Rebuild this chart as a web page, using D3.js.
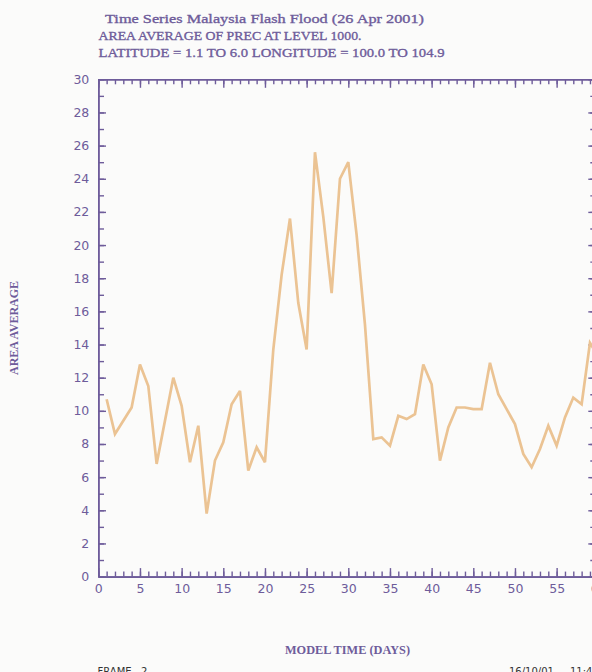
<!DOCTYPE html>
<html>
<head>
<meta charset="utf-8">
<script src="https://cdn.jsdelivr.net/npm/d3@7"></script>
<style>
  html, body { margin: 0; padding: 0; background: #fbfbfa; }
  svg { display: block; }
</style>
</head>
<body>
<svg id="chart" width="592" height="672"></svg>
<script>
// ---- data ----
const days = d3.range(1, 61);
const precip = [
  10.7, 8.6, 9.4, 10.2, 12.8, 11.5, 6.8, 9.4, 12.0, 10.3,
  6.9, 9.1, 3.8, 7.0, 8.1, 10.4, 11.2, 6.4, 7.8, 6.9,
  13.7, 18.2, 21.6, 16.5, 13.7, 25.6, 21.7, 17.1, 24.0, 25.0,
  20.6, 15.2, 8.3, 8.4, 7.9, 9.7, 9.5, 9.8, 12.8, 11.6,
  7.0, 9.0, 10.2, 10.2, 10.1, 10.1, 12.9, 11.0, 10.1, 9.2,
  7.4, 6.6, 7.7, 9.1, 7.9, 9.6, 10.8, 10.4, 14.1, 13.3
];
const xTickLabels = [0, 5, 10, 15, 20, 25, 30, 35, 40, 45, 50, 55, 60];
const yTickLabels = [0, 2, 4, 6, 8, 10, 12, 14, 16, 18, 20, 22, 24, 26, 28, 30];
const titleLines = [
  "Time Series Malaysia Flash Flood (26 Apr 2001)",
  "AREA AVERAGE OF PREC AT LEVEL 1000.",
  "LATITUDE = 1.1 TO 6.0 LONGITUDE = 100.0 TO 104.9"
];

// ---- layout ----
const purple = "#6e5c9a";
const lineColor = "#ebc393";
const svg = d3.select("#chart");
const x = d3.scaleLinear().domain([0, 60]).range([98.3, 598.3]);
const y = d3.scaleLinear().domain([0, 30]).range([576.6, 79.3]);
const tickFont = "'DejaVu Sans', sans-serif";
const serif = "'Liberation Serif', 'DejaVu Serif', serif";

function styleAxis(g) {
  g.selectAll("path.domain").attr("stroke", purple).attr("stroke-width", 1.6);
  g.selectAll(".tick line").attr("stroke", purple).attr("stroke-width", 1.4);
  g.selectAll(".tick text").attr("fill", purple).style("font-family", tickFont).style("font-size", "12.5px");
}

const minorX = d3.range(0, 61, 1);
const minorY = d3.range(0, 31, 1);

// bottom axis
svg.append("g").attr("transform", `translate(0,${y(0)})`)
  .call(d3.axisBottom(x).tickValues(minorX).tickSizeInner(-5).tickSizeOuter(0).tickFormat(""))
  .call(styleAxis);
svg.append("g").attr("transform", `translate(0,${y(0)})`)
  .call(d3.axisBottom(x).tickValues(xTickLabels).tickSizeInner(-8.5).tickSizeOuter(0).tickPadding(8).tickFormat(d3.format("d")))
  .call(styleAxis);
// top axis
svg.append("g").attr("transform", `translate(0,${y(30)})`)
  .call(d3.axisTop(x).tickValues(minorX).tickSizeInner(-5).tickSizeOuter(0).tickFormat(""))
  .call(styleAxis);
svg.append("g").attr("transform", `translate(0,${y(30)})`)
  .call(d3.axisTop(x).tickValues(xTickLabels).tickSizeInner(-8.5).tickSizeOuter(0).tickFormat(""))
  .call(styleAxis);
// left axis
svg.append("g").attr("transform", `translate(${x(0)},0)`)
  .call(d3.axisLeft(y).tickValues(minorY).tickSizeInner(-5.7).tickSizeOuter(0).tickFormat(""))
  .call(styleAxis);
svg.append("g").attr("transform", `translate(${x(0)},0)`)
  .call(d3.axisLeft(y).tickValues(yTickLabels).tickSizeInner(-7.7).tickSizeOuter(0).tickPadding(9).tickFormat(d3.format("d")))
  .call(styleAxis);
// right axis
svg.append("g").attr("transform", `translate(${x(60) - 2.3},0)`)
  .call(d3.axisRight(y).tickValues(minorY).tickSizeInner(-5.7).tickSizeOuter(0).tickFormat(""))
  .call(styleAxis);
svg.append("g").attr("transform", `translate(${x(60) - 2.3},0)`)
  .call(d3.axisRight(y).tickValues(yTickLabels).tickSizeInner(-7.7).tickSizeOuter(0).tickFormat(""))
  .call(styleAxis);

// data line
const line = d3.line().x((d, i) => x(days[i])).y(d => y(d));
svg.append("path").datum(precip)
  .attr("d", line)
  .attr("fill", "none")
  .attr("stroke", lineColor)
  .attr("stroke-width", 2.7)
  .attr("stroke-linejoin", "miter")
  .attr("stroke-miterlimit", 3);

// titles
const titleSpecs = [
  { x: 105, y: 23, len: 319 },
  { x: 98.5, y: 39.5, len: 263 },
  { x: 98.5, y: 56.5, len: 346 }
];
titleLines.forEach((t, i) => {
  svg.append("text")
    .attr("x", titleSpecs[i].x).attr("y", titleSpecs[i].y)
    .attr("textLength", titleSpecs[i].len).attr("lengthAdjust", "spacingAndGlyphs")
    .attr("fill", purple)
    .attr("stroke", purple).attr("stroke-width", 0.35)
    .style("font-family", serif).style("font-size", "13.5px")
    .text(t);
});

// axis titles
svg.append("text")
  .attr("transform", "translate(18,328) rotate(-90)")
  .attr("text-anchor", "middle")
  .attr("textLength", 94).attr("lengthAdjust", "spacingAndGlyphs")
  .attr("fill", purple)
  .style("font-family", serif).style("font-size", "12.5px").style("font-weight", "bold")
  .text("AREA AVERAGE");
svg.append("text")
  .attr("x", 285).attr("y", 653.5)
  .attr("textLength", 125).attr("lengthAdjust", "spacingAndGlyphs")
  .attr("fill", purple)
  .style("font-family", serif).style("font-size", "13px").style("font-weight", "bold")
  .text("MODEL TIME (DAYS)");

// footer (cut off at bottom, as in the reference)
svg.append("text")
  .attr("x", 97.5).attr("y", 675)
  .attr("fill", "#333")
  .style("font-family", tickFont).style("font-size", "10px")
  .text("FRAME");
svg.append("text")
  .attr("x", 141).attr("y", 675)
  .attr("fill", "#333")
  .style("font-family", tickFont).style("font-size", "10px")
  .text("2");
svg.append("text")
  .attr("x", 509).attr("y", 675)
  .attr("fill", "#333")
  .style("font-family", tickFont).style("font-size", "10px")
  .text("16/10/01");
svg.append("text")
  .attr("x", 570).attr("y", 675)
  .attr("fill", "#333")
  .style("font-family", tickFont).style("font-size", "10px")
  .text("11:41");
</script>
</body>
</html>
